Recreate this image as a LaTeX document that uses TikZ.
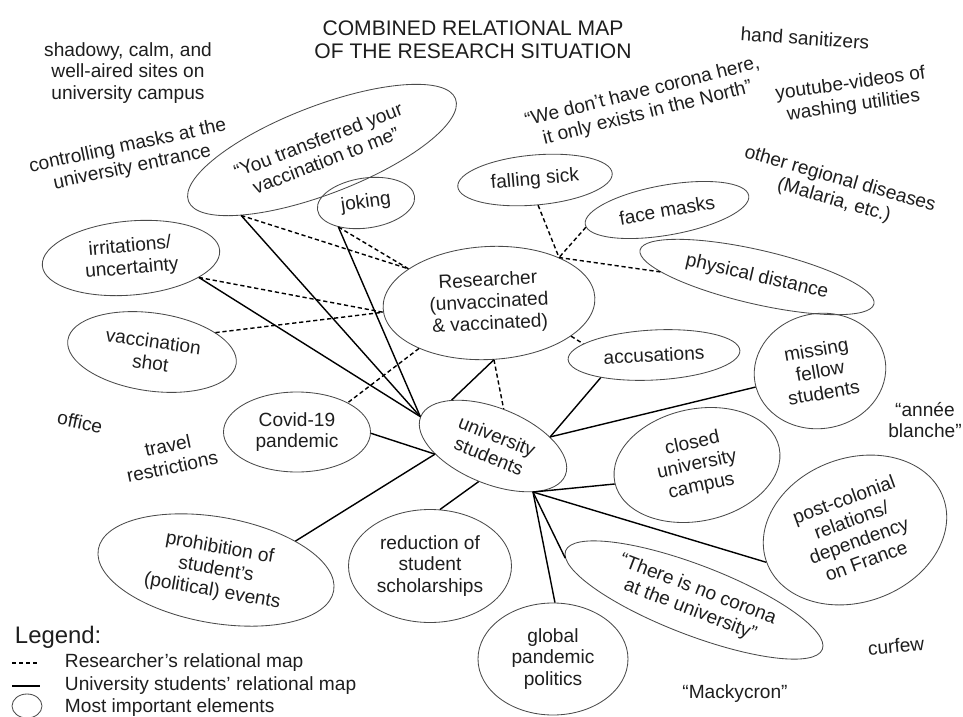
\documentclass[tikz,border=0pt]{standalone}
\usepackage{fontspec}
\setmainfont{Liberation Sans}
\usetikzlibrary{shapes.geometric}

\definecolor{inkgray}{HTML}{1E1E1E}
\definecolor{rimgray}{HTML}{4A4A4A}

\begin{document}
\begin{tikzpicture}[x=0.025cm,y=-0.025cm,
	every node/.style={text=inkgray,align=center,font=\fontsize{13.6}{15.5}\selectfont},
	elem/.style 2 args={draw=rimgray,line width=0.6pt,ellipse,inner sep=0pt,minimum width=#1*0.025cm,minimum height=#2*0.025cm},
	rmap/.style={line width=1pt,dash pattern=on 3pt off 2pt},
	smap/.style={line width=1pt}]
	\path[use as bounding box,fill=white] (0,0) rectangle (963,717);

	\node[font=\fontsize{15}{16.5}\selectfont] (title) at (473,40) {COMBINED RELATIONAL MAP\\OF THE RESEARCH SITUATION};

	\node[elem={286}{88},rotate=21] (trans) at (322,150) {“You transferred your\\vaccination to me”};
	\node[elem={98}{50},rotate=8] (joking) at (366,203) {joking};
	\node[elem={178}{74},rotate=5] (irrit) at (131,258) {irritations/\\uncertainty};
	\node[elem={170}{78},rotate=-8] (vacc) at (152,352) {vaccination\\shot};
	\node[elem={212}{113},rotate=3] (res) at (489,303) {Researcher\\(unvaccinated\\\& vaccinated)};
	\node[elem={155}{50},rotate=5] (fall) at (535,180) {falling sick};
	\node[elem={166}{50},rotate=10] (mask) at (667,210) {face masks};
	\node[elem={240}{54},rotate=-13] (dist) at (757,277) {physical distance};
	\node[elem={172}{50},rotate=3] (acc) at (654,355) {accusations};
	\node[elem={132}{115},rotate=10] (miss) at (820,371) {missing\\fellow\\students};
	\node[elem={147}{80}] (covid) at (297,432) {Covid-19\\pandemic};
	\node[elem={156}{76},rotate=-22] (uni) at (493,446) {university\\students};
	\node[elem={168}{112},rotate=12] (closed) at (697,465) {closed\\university\\campus};
	\node[elem={188}{144},rotate=20] (post) at (855,530) {post-colonial\\relations/\\dependency\\on France};
	\node[elem={239}{106},rotate=-10] (prohib) at (216,570) {prohibition of\\student’s\\(political) events};
	\node[elem={163}{113}] (reduc) at (430,566) {reduction of\\student\\scholarships};
	\node[elem={275}{70},rotate=-21] (nocor) at (694,600) {“There is no corona\\at the university”};
	\node[elem={150}{112}] (glob) at (553,659) {global\\pandemic\\politics};

	\node (sites) at (128,73) {shadowy, calm, and\\well-aired sites on\\university campus};
	\node[rotate=12] (ctrl) at (130,157) {controlling masks at the\\university entrance};
	\node[rotate=-4] (sanit) at (805,38) {hand sanitizers};
	\node[rotate=14] (north) at (645,103) {“We don’t have corona here,\\it only exists in the North”};
	\node[rotate=8] (video) at (852,95) {youtube-videos of\\washing utilities};
	\node[rotate=-16] (malaria) at (837,190) {other regional diseases\\(Malaria, etc.)};
	\node[rotate=-12] (office) at (80,422) {office};
	\node[rotate=12] (travel) at (170,456) {travel\\restrictions};
	\node (annee) at (925,420) {“année\\blanche”};
	\node[rotate=5] (curfew) at (896,646) {curfew};
	\node (macky) at (735,694) {“Mackycron”};

	\foreach \a/\b in {trans.198/res.154, joking.213/res.154, irrit.339/res.182, vacc.25/res.182, fall.272/res.30, mask.182/res.30, dist.190/res.30, res.335/acc.168, res.272/uni.96, res.210/covid.30}
		\draw[rmap] (\a) -- (\b);
	\foreach \a/\b in {trans.198/uni.180, joking.213/uni.180, irrit.339/uni.180, res.272/uni.154, covid.359/uni.210, prohib.30/uni.210, reduc.80/uni.270, acc.200/uni.31, miss.184/uni.31, uni.333/closed.181, uni.333/post.180, uni.333/nocor.183, uni.333/glob.88}
		\draw[smap] (\a) -- (\b);

	\node[anchor=west,font=\fontsize{17}{20}\selectfont] (legend) at (10,637) {Legend:};
	\coordinate (rkeyA) at (12,663);
	\coordinate (rkeyB) at (40,663);
	\coordinate (skeyA) at (12,686);
	\coordinate (skeyB) at (40,686);
	\draw[rmap] (rkeyA) -- (rkeyB);
	\draw[smap] (skeyA) -- (skeyB);
	\node[elem={30}{24}] (ekey) at (27,706) {};
	\node[anchor=west] (rtext) at (60,663) {Researcher’s relational map};
	\node[anchor=west] (stext) at (60,686) {University students’ relational map};
	\node[anchor=west] (etext) at (60,708) {Most important elements};
\end{tikzpicture}
\end{document}
